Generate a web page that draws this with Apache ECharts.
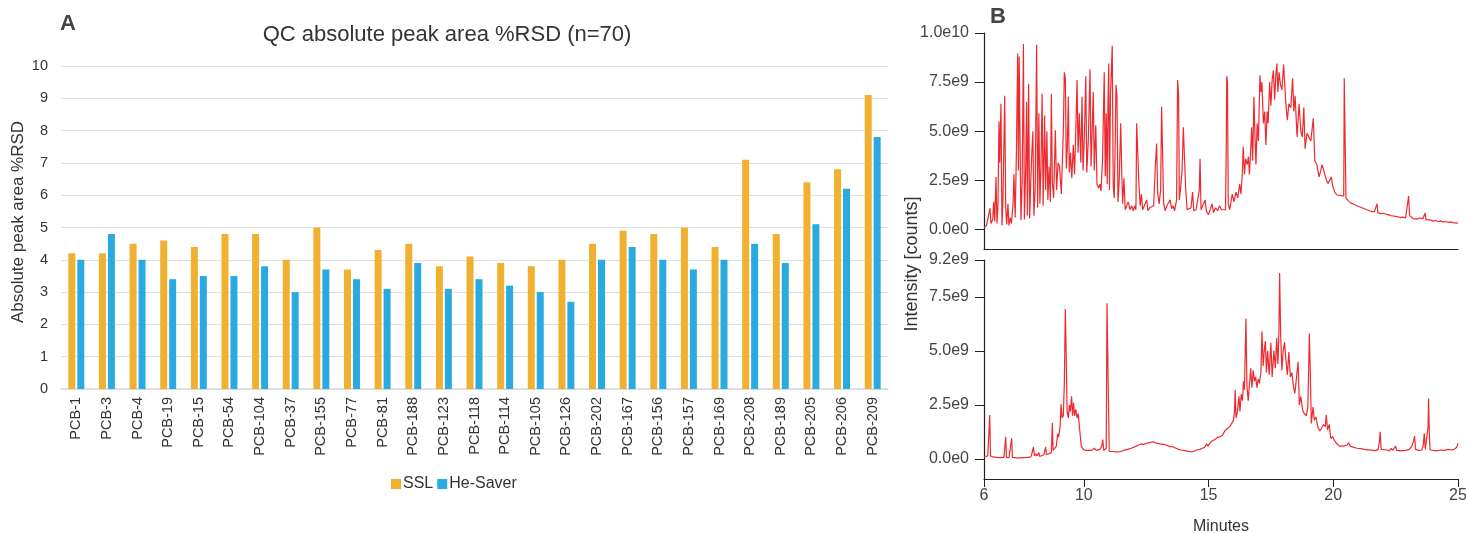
<!DOCTYPE html>
<html>
<head>
<meta charset="utf-8">
<script src="https://cdn.jsdelivr.net/npm/echarts@6/dist/echarts.min.js"></script>
<style>
  html, body { margin: 0; padding: 0; background: #fff; }
  #main { width: 1466px; height: 533px; }
</style>
</head>
<body>
<div id="main"></div>
<script>
// panel A: %RSD per congener
var pcbNames = ['PCB-1','PCB-3','PCB-4','PCB-19','PCB-15','PCB-54','PCB-104','PCB-37','PCB-155','PCB-77',
  'PCB-81','PCB-188','PCB-123','PCB-118','PCB-114','PCB-105','PCB-126','PCB-202','PCB-167','PCB-156',
  'PCB-157','PCB-169','PCB-208','PCB-189','PCB-205','PCB-206','PCB-209'];
var sslRsd = [4.2,4.2,4.5,4.6,4.4,4.8,4.8,4.0,5.0,3.7,4.3,4.5,3.8,4.1,3.9,3.8,4.0,4.5,4.9,4.8,5.0,4.4,7.1,4.8,6.4,6.8,9.1];
var heSaverRsd = [4.0,4.8,4.0,3.4,3.5,3.5,3.8,3.0,3.7,3.4,3.1,3.9,3.1,3.4,3.2,3.0,2.7,4.0,4.4,4.0,3.7,4.0,4.5,3.9,5.1,6.2,7.8];
var rsdTicks = [0,1,2,3,4,5,6,7,8,9,10];

// panel B: chromatograms [minutes, intensity in 1e9 counts]
var sslTrace = [[6.00,0.10],[6.10,0.20],[6.18,0.25],[6.24,1.07],[6.28,0.30],[6.35,0.50],[6.39,1.40],[6.43,0.40],[6.48,2.67],[6.52,0.30],[6.56,1.2],[6.60,5.50],[6.63,3.40],[6.68,6.40],[6.72,0.20],[6.76,1.5],[6.83,6.80],[6.87,1.10],[6.91,0.25],[6.96,1.30],[7.00,0.20],[7.05,0.6],[7.10,0.30],[7.16,1.2],[7.20,2.80],[7.25,0.60],[7.30,4.0],[7.35,8.96],[7.38,3.0],[7.41,8.80],[7.45,8.9],[7.48,0.46],[7.53,2.5],[7.58,9.44],[7.62,0.50],[7.67,3.0],[7.71,6.50],[7.74,0.70],[7.79,7.40],[7.83,0.55],[7.88,2.6],[7.92,4.0],[7.96,5.00],[8.00,0.70],[8.05,2.0],[8.11,9.40],[8.15,1.10],[8.20,5.90],[8.24,1.3],[8.28,3.0],[8.33,6.9],[8.37,1.2],[8.43,5.80],[8.47,2.0],[8.52,5.00],[8.56,1.5],[8.61,3.2],[8.66,1.4],[8.70,6.90],[8.74,2.4],[8.79,1.6],[8.86,5.05],[8.91,2.0],[8.97,3.4],[9.03,3.2],[9.10,1.8],[9.18,5.0],[9.22,8.00],[9.26,7.70],[9.30,3.1],[9.34,4.2],[9.38,6.75],[9.42,2.9],[9.47,3.9],[9.52,2.6],[9.58,4.3],[9.63,2.8],[9.68,5.1],[9.73,7.60],[9.77,3.9],[9.82,5.9],[9.88,3.4],[9.93,6.75],[9.97,3.0],[10.02,4.6],[10.08,7.80],[10.12,2.9],[10.18,4.5],[10.25,8.15],[10.29,3.2],[10.33,4.8],[10.38,7.00],[10.42,3.0],[10.48,5.3],[10.53,2.3],[10.60,2.1],[10.65,2.3],[10.69,1.95],[10.75,3.5],[10.82,8.00],[10.86,2.7],[10.90,5.90],[10.94,2.3],[10.97,6.5],[11.00,8.45],[11.03,2.0],[11.07,6.8],[11.14,9.35],[11.18,2.2],[11.22,1.6],[11.26,4.5],[11.29,7.35],[11.33,6.80],[11.37,1.4],[11.42,2.5],[11.48,5.40],[11.52,3.0],[11.56,1.3],[11.61,2.6],[11.66,1.0],[11.72,1.0],[11.78,1.4],[11.85,1.0],[11.92,1.2],[11.98,0.95],[12.04,1.2],[12.09,1.0],[12.12,5.40],[12.16,5.35],[12.21,2.3],[12.26,1.2],[12.31,1.8],[12.36,1.0],[12.44,0.95],[12.52,1.5],[12.57,0.95],[12.64,1.1],[12.72,1.0],[12.80,1.2],[12.87,3.27],[12.92,4.37],[12.96,1.9],[13.02,1.3],[13.08,2.0],[13.12,6.24],[13.16,6.30],[13.20,1.35],[13.26,0.95],[13.33,1.2],[13.40,1.1],[13.46,1.5],[13.52,1.05],[13.58,1.2],[13.64,0.95],[13.72,1.5],[13.76,7.60],[13.80,6.90],[13.83,1.5],[13.88,2.1],[13.94,3.0],[13.99,5.20],[14.04,5.1],[14.08,2.2],[14.14,1.0],[14.22,0.9],[14.30,1.1],[14.36,1.9],[14.41,0.95],[14.50,1.0],[14.58,0.95],[14.63,2.0],[14.66,3.60],[14.70,1.0],[14.78,0.95],[14.86,1.5],[14.92,0.9],[15.00,0.75],[15.08,0.8],[15.14,1.3],[15.20,0.85],[15.28,1.1],[15.36,0.95],[15.44,1.2],[15.52,1.0],[15.60,1.1],[15.68,1.0],[15.71,4.0],[15.73,7.80],[15.76,7.5],[15.79,1.3],[15.85,1.0],[15.95,1.8],[16.02,1.4],[16.10,1.9],[16.17,1.6],[16.25,2.3],[16.30,1.8],[16.36,3.0],[16.39,4.20],[16.44,2.8],[16.49,3.6],[16.55,3.3],[16.60,3.7],[16.64,2.8],[16.69,4.0],[16.73,5.20],[16.77,3.5],[16.82,6.75],[16.86,4.8],[16.90,3.3],[16.95,5.4],[17.00,4.5],[17.06,7.85],[17.10,7.0],[17.14,7.5],[17.20,5.4],[17.25,6.0],[17.30,4.30],[17.35,6.0],[17.39,5.4],[17.45,7.5],[17.50,6.3],[17.55,7.6],[17.60,8.10],[17.65,6.6],[17.70,7.9],[17.74,8.45],[17.78,7.0],[17.83,8.0],[17.88,7.4],[17.94,7.1],[18.01,8.40],[18.05,7.5],[18.10,6.4],[18.16,5.56],[18.22,6.4],[18.30,6.2],[18.37,7.70],[18.42,6.0],[18.47,6.8],[18.55,4.7],[18.63,6.4],[18.70,5.0],[18.76,4.7],[18.82,6.2],[18.87,4.1],[18.95,4.9],[19.03,4.9],[19.10,4.5],[19.20,5.65],[19.26,3.5],[19.34,3.3],[19.43,2.67],[19.50,3.0],[19.55,3.3],[19.62,3.0],[19.70,2.6],[19.79,2.33],[19.86,2.4],[19.92,2.67],[19.98,2.2],[20.06,1.9],[20.15,1.75],[20.27,1.73],[20.35,1.65],[20.42,1.7],[20.44,7.70],[20.48,7.60],[20.51,1.6],[20.60,1.45],[20.70,1.35],[20.78,1.45],[20.86,1.25],[20.95,1.2],[21.05,1.15],[21.15,1.1],[21.25,1.05],[21.35,1.0],[21.45,0.95],[21.55,0.9],[21.65,0.9],[21.72,1.0],[21.75,1.3],[21.79,0.85],[21.90,0.8],[22.00,0.82],[22.10,0.78],[22.20,0.75],[22.30,0.7],[22.40,0.68],[22.50,0.66],[22.60,0.64],[22.70,0.6],[22.80,0.62],[22.90,0.58],[22.97,0.62],[23.02,1.70],[23.06,0.70],[23.12,0.6],[23.20,0.55],[23.28,0.62],[23.36,0.52],[23.45,0.58],[23.52,0.5],[23.60,0.55],[23.65,0.62],[23.68,0.83],[23.72,0.48],[23.80,0.45],[23.90,0.48],[24.00,0.42],[24.10,0.45],[24.20,0.40],[24.30,0.43],[24.40,0.38],[24.50,0.40],[24.60,0.36],[24.70,0.38],[24.80,0.34],[24.90,0.33],[25.00,0.32]];

var heSaverTrace = [[6.00,0.10],[6.08,0.12],[6.15,0.15],[6.20,0.2],[6.23,2.04],[6.26,0.15],[6.35,0.1],[6.50,0.08],[6.65,0.07],[6.80,0.08],[6.85,0.1],[6.87,1.03],[6.90,0.08],[7.00,0.07],[7.08,0.08],[7.11,0.96],[7.14,0.08],[7.30,0.06],[7.45,0.06],[7.60,0.07],[7.75,0.08],[7.88,0.10],[7.93,0.3],[7.98,0.57],[8.02,0.15],[8.07,0.25],[8.12,0.15],[8.20,0.3],[8.23,0.12],[8.30,0.15],[8.40,0.2],[8.47,0.57],[8.50,0.2],[8.60,0.25],[8.70,0.3],[8.74,1.68],[8.77,0.4],[8.84,0.45],[8.90,0.6],[8.95,1.16],[8.99,1.0],[9.05,1.5],[9.09,2.54],[9.13,1.9],[9.18,2.0],[9.22,3.5],[9.26,6.93],[9.30,4.5],[9.33,2.2],[9.38,1.9],[9.42,2.5],[9.46,2.2],[9.51,2.9],[9.55,2.0],[9.59,2.6],[9.63,2.0],[9.68,2.3],[9.73,1.9],[9.78,2.1],[9.84,1.3],[9.90,0.6],[9.98,0.45],[10.08,0.4],[10.18,0.4],[10.25,0.45],[10.33,0.4],[10.42,0.5],[10.50,0.4],[10.58,0.45],[10.65,0.45],[10.72,0.6],[10.76,0.90],[10.80,0.4],[10.86,0.35],[10.90,0.5],[10.93,7.20],[10.98,7.2],[11.02,0.35],[11.10,0.32],[11.20,0.35],[11.30,0.33],[11.45,0.34],[11.60,0.4],[11.75,0.45],[11.90,0.5],[12.00,0.55],[12.10,0.6],[12.20,0.65],[12.30,0.7],[12.40,0.68],[12.50,0.72],[12.60,0.75],[12.70,0.78],[12.79,0.8],[12.88,0.75],[12.95,0.72],[13.05,0.7],[13.12,0.78],[13.20,0.68],[13.30,0.65],[13.40,0.6],[13.50,0.58],[13.60,0.55],[13.70,0.5],[13.80,0.45],[13.90,0.42],[14.00,0.4],[14.10,0.38],[14.20,0.36],[14.32,0.34],[14.42,0.36],[14.52,0.42],[14.58,0.5],[14.65,0.45],[14.75,0.5],[14.85,0.55],[14.92,0.7],[14.98,0.6],[15.06,0.75],[15.15,0.85],[15.25,0.9],[15.35,1.0],[15.46,1.03],[15.56,1.1],[15.65,1.3],[15.75,1.4],[15.85,1.5],[15.93,1.65],[16.00,1.8],[16.04,2.2],[16.07,3.20],[16.10,1.9],[16.16,2.2],[16.22,2.9],[16.26,2.2],[16.31,3.0],[16.36,2.7],[16.40,3.6],[16.44,3.2],[16.50,6.50],[16.54,3.4],[16.59,2.7],[16.64,3.4],[16.69,4.20],[16.74,3.3],[16.79,4.1],[16.84,3.6],[16.89,3.8],[16.94,3.3],[16.99,3.7],[17.04,3.5],[17.10,4.0],[17.14,5.90],[17.19,4.3],[17.24,5.1],[17.28,5.45],[17.32,4.0],[17.37,5.0],[17.43,3.9],[17.50,5.37],[17.55,3.8],[17.62,5.0],[17.68,4.2],[17.73,5.6],[17.78,4.4],[17.82,5.8],[17.85,8.60],[17.89,5.8],[17.94,4.1],[17.99,5.0],[18.05,5.4],[18.10,4.6],[18.16,3.9],[18.22,4.95],[18.28,3.8],[18.34,4.0],[18.40,3.4],[18.46,3.04],[18.53,3.8],[18.59,4.5],[18.64,2.5],[18.70,2.9],[18.77,2.27],[18.84,2.1],[18.92,2.0],[18.98,2.4],[19.02,4.5],[19.04,5.80],[19.08,4.0],[19.12,1.65],[19.19,2.4],[19.24,1.8],[19.30,1.95],[19.38,1.5],[19.46,1.3],[19.54,1.45],[19.62,1.6],[19.68,1.5],[19.72,2.04],[19.77,1.35],[19.84,1.6],[19.90,0.95],[19.98,1.05],[20.05,0.85],[20.15,0.7],[20.25,0.6],[20.40,0.6],[20.55,0.65],[20.62,0.75],[20.68,0.6],[20.80,0.55],[20.95,0.5],[21.10,0.48],[21.25,0.45],[21.40,0.43],[21.55,0.41],[21.70,0.39],[21.80,0.45],[21.85,0.8],[21.88,1.26],[21.92,0.45],[22.00,0.4],[22.15,0.42],[22.25,0.38],[22.32,0.5],[22.38,0.4],[22.45,0.42],[22.50,0.6],[22.54,0.4],[22.70,0.38],[22.90,0.4],[23.05,0.45],[23.15,0.6],[23.22,0.85],[23.26,1.06],[23.30,0.45],[23.42,0.4],[23.55,0.42],[23.60,0.6],[23.65,1.19],[23.69,0.45],[23.75,0.5],[23.80,1.5],[23.82,2.80],[23.85,1.2],[23.88,0.42],[24.00,0.4],[24.15,0.38],[24.30,0.42],[24.45,0.4],[24.60,0.45],[24.75,0.42],[24.85,0.45],[24.95,0.55],[25.00,0.73]];

var minuteTicks = [6,10,15,20,25];
var topIntensityTicks = [0,2.5,5,7.5,10];
var bottomIntensityTicks = [0,2.5,5,7.5,9.2];

var FONT = '"Liberation Sans", Arial, sans-serif';

// 1.0e10 / 7.5e9 / 0.0e0 style
function sciLabel(v){
  if (v === 0) return '0.0e0';
  var raw = v * 1e9;
  var exp = Math.floor(Math.log10(raw) + 1e-9);
  return (raw / Math.pow(10, exp)).toFixed(1) + 'e' + exp;
}

var chromX = function(grid, showLabels){
  return {
    type: 'value', gridIndex: grid, min: 6, max: 25,
    axisLine: { show: true, onZero: false, lineStyle: { color: '#222', width: 1.2 } },
    axisTick: { show: showLabels, length: 8, customValues: minuteTicks, lineStyle: { color: '#222' } },
    axisLabel: { show: showLabels, customValues: minuteTicks, margin: 9, color: '#444', fontSize: 16, fontFamily: FONT },
    splitLine: { show: false },
    name: showLabels ? 'Minutes' : '',
    nameLocation: 'middle', nameGap: 40,
    nameTextStyle: { color: '#333', fontSize: 16, fontFamily: FONT }
  };
};
var chromY = function(grid, lo, hi, ticks){
  return {
    type: 'value', gridIndex: grid, min: lo, max: hi,
    axisLine: { show: true, onZero: false, lineStyle: { color: '#222', width: 1.2 } },
    axisTick: { show: true, length: 9, customValues: ticks, lineStyle: { color: '#222' } },
    axisLabel: { customValues: ticks, margin: 15, color: '#444', fontSize: 16, fontFamily: FONT, formatter: sciLabel },
    splitLine: { show: false }
  };
};

var chart = echarts.init(document.getElementById('main'));
var option = {
  animation: false,
  textStyle: { fontFamily: FONT },
  graphic: [
    { type: 'text', left: 60, top: 13, style: { text: 'A', font: 'bold 22px ' + FONT, fill: '#444' } },
    { type: 'text', left: 990, top: 6, style: { text: 'B', font: 'bold 22px ' + FONT, fill: '#444' } },
    { type: 'text', x: 447, y: 35, style: { text: 'QC absolute peak area %RSD (n=70)', font: '22px ' + FONT, fill: '#333', align: 'center', verticalAlign: 'middle' } },
    { type: 'text', x: 18, y: 222, rotation: Math.PI / 2, style: { text: 'Absolute peak area %RSD', font: '17px ' + FONT, fill: '#333', align: 'center', verticalAlign: 'middle' } },
    { type: 'text', x: 912, y: 264, rotation: Math.PI / 2, style: { text: 'Intensity [counts]', font: '18px ' + FONT, fill: '#333', align: 'center', verticalAlign: 'middle' } }
  ],
  legend: {
    data: ['SSL', 'He-Saver'],
    left: 386, top: 471,
    itemWidth: 10, itemHeight: 10, itemGap: 4,
    icon: 'rect',
    textStyle: { color: '#333', fontSize: 16, fontFamily: FONT, padding: [0, 0, 0, -3] }
  },
  grid: [
    { left: 61, right: 578, top: 66, bottom: 144, containLabel: false, outerBoundsMode: 'none' },
    { left: 984, right: 8, top: 33, bottom: 284, containLabel: false, outerBoundsMode: 'none' },
    { left: 984, right: 8, top: 260, bottom: 54, containLabel: false, outerBoundsMode: 'none' }
  ],
  xAxis: [
    {
      type: 'category', gridIndex: 0, data: pcbNames,
      axisLine: { lineStyle: { color: '#d9d9d9', width: 1.5 } },
      axisTick: { show: false },
      axisLabel: { rotate: 90, interval: 0, margin: 8, color: '#333', fontSize: 14.5, fontFamily: FONT }
    },
    chromX(1, false),
    chromX(2, true)
  ],
  yAxis: [
    {
      type: 'value', gridIndex: 0, min: 0, max: 10, interval: 1,
      axisLine: { show: false }, axisTick: { show: false },
      axisLabel: { color: '#333', fontSize: 14.5, margin: 13, fontFamily: FONT, customValues: rsdTicks },
      splitLine: { lineStyle: { color: '#e0e0e0', width: 1.2 } }
    },
    chromY(1, -1, 10, topIntensityTicks),
    chromY(2, -0.92, 9.2, bottomIntensityTicks)
  ],
  series: [
    { name: 'SSL', type: 'bar', xAxisIndex: 0, yAxisIndex: 0, data: sslRsd, barWidth: 7, barGap: '28%', itemStyle: { color: '#f0b030' } },
    { name: 'He-Saver', type: 'bar', xAxisIndex: 0, yAxisIndex: 0, data: heSaverRsd, barWidth: 7, itemStyle: { color: '#29abe2' } },
    { type: 'line', xAxisIndex: 1, yAxisIndex: 1, data: sslTrace, symbol: 'none', sampling: 'none', lineStyle: { color: '#ee2a2e', width: 1.2 } },
    { type: 'line', xAxisIndex: 2, yAxisIndex: 2, data: heSaverTrace, symbol: 'none', sampling: 'none', lineStyle: { color: '#ee2a2e', width: 1.2 } }
  ]
};
chart.setOption(option);
</script>
</body>
</html>
